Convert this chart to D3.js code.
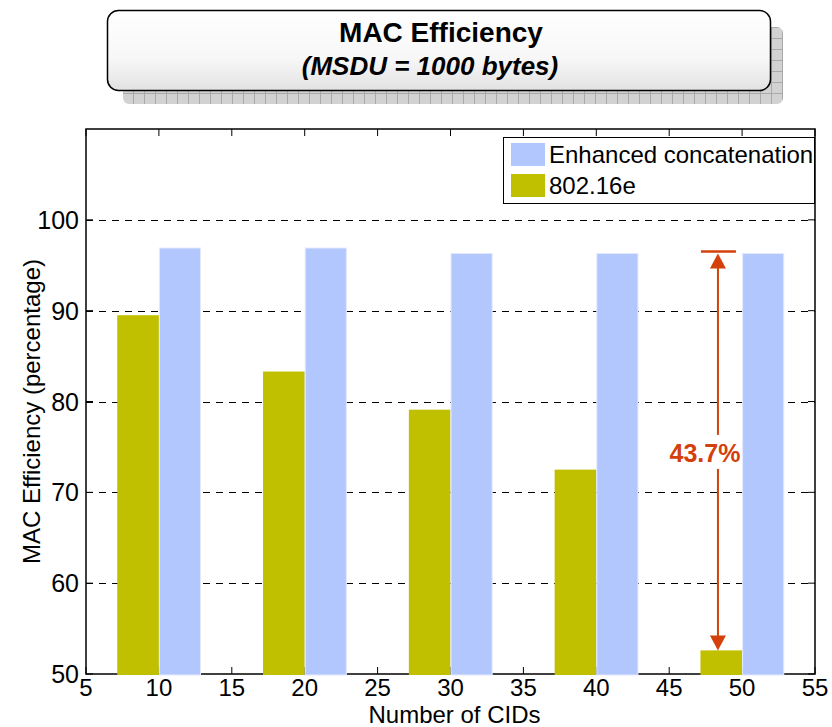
<!DOCTYPE html>
<html><head><meta charset="utf-8">
<script src="https://cdn.jsdelivr.net/npm/d3@7"></script>
<style>body{margin:0;background:#fff;} svg{display:block;font-family:"Liberation Sans",Arial,sans-serif;}</style>
</head><body>
<svg id="chart" width="832" height="727"></svg>
<script>
const categories = [10, 20, 30, 40, 50];
const enhanced = [96.9, 96.9, 96.3, 96.3, 96.3];
const ieee80216e = [89.5, 83.3, 79.1, 72.5, 52.6];
const seriesNames = ["Enhanced concatenation", "802.16e"];
const xTicks = [5, 10, 15, 20, 25, 30, 35, 40, 45, 50, 55];
const yTicks = [50, 60, 70, 80, 90, 100];
const gridValues = [60, 70, 80, 90, 100];
const titleText = "MAC Efficiency";
const subtitleText = "(MSDU = 1000 bytes)";
const xLabel = "Number of CIDs";
const yLabel = "MAC Efficiency (percentage)";

const colYellow = "#c0c000", colBlue = "#b3c7ff", colRed = "#d4400c";
const svg = d3.select("#chart");
const L = 86, R = 815, T = 129, B = 674;
const x = d3.scaleLinear().domain([5, 55]).range([L, R]);
const y = d3.scaleLinear().domain([50, 110]).range([B, T]);
const barW = 10 * (2 / 3.5) / 2; // MATLAB grouped bar width in data units

// ----- title box -----
const defs = svg.append("defs");
const grad = defs.append("linearGradient").attr("id", "tg").attr("x1", 0).attr("y1", 0).attr("x2", 0).attr("y2", 1);
grad.append("stop").attr("offset", "0%").attr("stop-color", "#ffffff");
grad.append("stop").attr("offset", "60%").attr("stop-color", "#f7f7f7");
grad.append("stop").attr("offset", "100%").attr("stop-color", "#e2e2e2");
const pat = defs.append("pattern").attr("id", "gp").attr("patternUnits", "userSpaceOnUse")
  .attr("width", 11).attr("height", 11).attr("x", 122).attr("y", 27);
pat.append("rect").attr("width", 11).attr("height", 11).attr("fill", "#d2d2d2");
pat.append("path").attr("d", "M0,0.5H11M0.5,0V11").attr("stroke", "#a9a9a9").attr("stroke-width", 1);
svg.append("rect").attr("x", 123).attr("y", 27).attr("width", 660).attr("height", 77).attr("rx", 6)
  .attr("fill", "url(#gp)");
svg.append("rect").attr("x", 107.5).attr("y", 10.5).attr("width", 663).attr("height", 80).attr("rx", 11)
  .attr("fill", "url(#tg)").attr("stroke", "#000").attr("stroke-width", 1.5);
svg.append("text").attr("x", 441).attr("y", 42).attr("text-anchor", "middle")
  .attr("font-size", 28).attr("font-weight", "bold").text(titleText);
svg.append("text").attr("x", 430).attr("y", 75).attr("text-anchor", "middle")
  .attr("font-size", 26).attr("font-weight", "bold").attr("font-style", "italic").text(subtitleText);

// ----- grid -----
svg.append("g").selectAll("line").data(gridValues).join("line")
  .attr("x1", L).attr("x2", R).attr("y1", d => Math.round(y(d)) + 0.5).attr("y2", d => Math.round(y(d)) + 0.5)
  .attr("stroke", "#000").attr("stroke-width", 1).attr("stroke-dasharray", "7,6");

// ----- axes frame & ticks -----
const axG = svg.append("g");
axG.append("rect").attr("x", L).attr("y", T).attr("width", R - L).attr("height", B - T)
  .attr("fill", "none").attr("stroke", "#000").attr("stroke-width", 1.5);
const tk = 7;
axG.selectAll(".xb").data(xTicks).join("line").attr("class", "xb")
  .attr("x1", d => x(d)).attr("x2", d => x(d)).attr("y1", B).attr("y2", B - tk).attr("stroke", "#000");
axG.selectAll(".xt").data(xTicks).join("line").attr("class", "xt")
  .attr("x1", d => x(d)).attr("x2", d => x(d)).attr("y1", T).attr("y2", T + tk).attr("stroke", "#000");
axG.selectAll(".yl").data(yTicks).join("line").attr("class", "yl")
  .attr("x1", L).attr("x2", L + tk).attr("y1", d => y(d)).attr("y2", d => y(d)).attr("stroke", "#000");
axG.selectAll(".yr").data(yTicks).join("line").attr("class", "yr")
  .attr("x1", R).attr("x2", R - tk).attr("y1", d => y(d)).attr("y2", d => y(d)).attr("stroke", "#000");

// tick labels
svg.append("g").selectAll("text").data(xTicks).join("text")
  .attr("x", d => x(d)).attr("y", B + 22).attr("text-anchor", "middle").attr("font-size", 24)
  .text(d => d);
svg.append("g").selectAll("text").data(yTicks).join("text")
  .attr("x", L - 7).attr("y", d => y(d) + 9).attr("text-anchor", "end").attr("font-size", 25)
  .text(d => d);
svg.append("text").attr("x", (L + R) / 2 + 4).attr("y", B + 49).attr("text-anchor", "middle")
  .attr("font-size", 24).text(xLabel);
svg.append("text").attr("transform", `translate(40,${(T + B) / 2 + 10}) rotate(-90)`)
  .attr("text-anchor", "middle").attr("font-size", 24).text(yLabel);

// ----- bars -----
const bars = svg.append("g");
bars.selectAll(".by").data(categories).join("rect").attr("class", "by")
  .attr("x", d => x(d - barW)).attr("width", (d) => x(d) - x(d - barW))
  .attr("y", (d, i) => y(ieee80216e[i])).attr("height", (d, i) => B + 1 - y(ieee80216e[i]))
  .attr("fill", colYellow);
bars.selectAll(".bb").data(categories).join("rect").attr("class", "bb")
  .attr("x", d => x(d) + 0.5).attr("width", d => x(d + barW) - x(d) - 0.5)
  .attr("y", (d, i) => y(enhanced[i])).attr("height", (d, i) => B + 1 - y(enhanced[i]))
  .attr("fill", colBlue).attr("stroke", "#e3e9ff").attr("stroke-width", 1);

// ----- annotation -----
const last = categories.length - 1;
const ax = x(categories[last]) - (x(categories[last]) - x(categories[last] - barW)) * 0.58;
const yTop = y(enhanced[last]), yBot = y(ieee80216e[last]);
const diff = (enhanced[last] - ieee80216e[last]).toFixed(1) + "%";
const ann = svg.append("g").attr("stroke", colRed).attr("fill", colRed);
const labY = (yTop + yBot) / 2;
ann.append("line").attr("x1", ax - 17).attr("x2", ax + 18).attr("y1", yTop - 2).attr("y2", yTop - 2).attr("stroke-width", 2.5);
ann.append("line").attr("x1", ax).attr("x2", ax).attr("y1", yTop + 8).attr("y2", labY - 17).attr("stroke-width", 2);
ann.append("line").attr("x1", ax).attr("x2", ax).attr("y1", labY + 17).attr("y2", yBot - 10).attr("stroke-width", 2);
ann.append("path").attr("stroke", "none")
  .attr("d", `M${ax},${yTop}L${ax - 8},${yTop + 15}L${ax + 8},${yTop + 15}Z`);
ann.append("path").attr("stroke", "none")
  .attr("d", `M${ax},${yBot}L${ax - 8},${yBot - 15}L${ax + 8},${yBot - 15}Z`);
svg.append("text").attr("x", ax - 13).attr("y", labY + 10).attr("text-anchor", "middle")
  .attr("font-size", 25).attr("font-weight", "bold").attr("fill", colRed).text(diff);

// ----- legend -----
const lg = svg.append("g");
lg.append("rect").attr("x", 503.5).attr("y", 137.5).attr("width", 311).attr("height", 66)
  .attr("fill", "#fff").attr("stroke", "#000").attr("stroke-width", 1);
const legCols = [colBlue, colYellow];
seriesNames.forEach((n, i) => {
  lg.append("rect").attr("x", 511).attr("y", 143 + i * 31).attr("width", 34).attr("height", 23).attr("fill", legCols[i]);
  lg.append("text").attr("x", 549).attr("y", 163 + i * 31).attr("font-size", 24).text(n);
});
</script>
</body></html>
